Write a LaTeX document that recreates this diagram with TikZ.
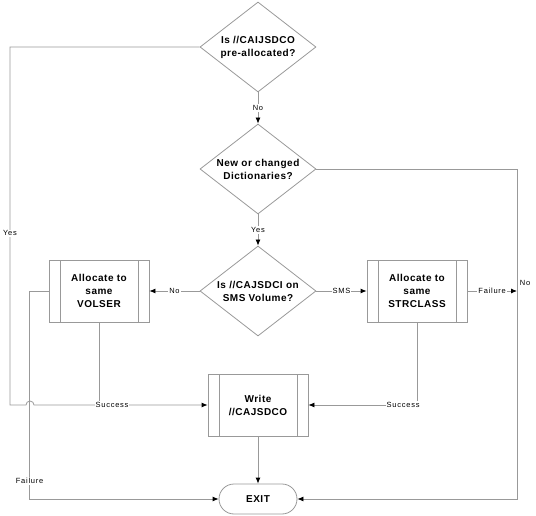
\documentclass[tikz,border=0pt]{standalone}
\usepackage{fontspec}
\setmainfont{Liberation Sans}
\newfontfamily\chartfont[LetterSpace=5]{Liberation Sans}
\newfontfamily\tagfont[LetterSpace=10]{Liberation Sans}
\usetikzlibrary{shapes.geometric,arrows.meta,positioning}

\begin{document}
\begin{tikzpicture}[
  x=1pt, y=-1pt,
  line width=0.8pt,
  decision/.style={
    draw=gray!80, diamond, aspect=1.29, minimum width=116pt,
    minimum height=90pt, inner sep=0pt, align=center,
    font=\chartfont\bfseries\fontsize{10}{13}\selectfont
  },
  procbox/.style={
    draw=gray!80, rectangle, minimum width=100pt, minimum height=62pt,
    inner sep=0pt, align=center,
    font=\chartfont\bfseries\fontsize{10}{13}\selectfont,
    path picture={
      \draw[gray!80] ([xshift=11pt]path picture bounding box.north west)
        -- ([xshift=11pt]path picture bounding box.south west);
      \draw[gray!80] ([xshift=-11pt]path picture bounding box.north east)
        -- ([xshift=-11pt]path picture bounding box.south east);
    }
  },
  terminal/.style={
    draw=gray!80, rounded corners=15pt, minimum width=78pt,
    minimum height=30pt, inner sep=0pt,
    font=\chartfont\bfseries\fontsize{10}{13}\selectfont
  },
  flow/.style={gray!80, -{Latex[length=6pt,width=5pt,color=black]}},
  link/.style={gray!80},
  tag/.style={fill=white, text=black, inner sep=1pt,
    font=\tagfont\fontsize{7.5}{9}\selectfont},
]
\useasboundingbox (0,0) rectangle (536,516);
% decisions down the middle
\node[decision] (prealloc) at (258,47)  {Is //CAIJSDCO\\pre-allocated?};
\node[decision] (dict)     at (258,169) {New or changed\\Dictionaries?};
\node[decision] (sms)      at (258,291) {Is //CAJSDCI on\\SMS Volume?};
% processes
\node[procbox] (volser)   at (99,291)  {Allocate to\\same\\VOLSER};
\node[procbox] (strclass) at (417,291) {Allocate to\\same\\STRCLASS};
\node[procbox] (write)    at (258,405) {Write\\//CAJSDCO};
\node[terminal] (exit)    at (258,499) {EXIT};
% rails
\coordinate (yesrail) at (10,405);
\coordinate (norail)  at (517,499);
% connectors
\draw[flow] (prealloc) -- node[tag]{No} (dict);
\draw[flow] (dict) -- node[tag]{Yes} (sms);
\draw[flow] (sms) -- node[tag]{No} (volser);
\draw[flow] (sms) -- node[tag]{SMS} (strclass);
\draw[flow] (strclass.east) -- node[tag]{Failure} (strclass.east -| norail);
\draw[flow] (dict.east) -| (norail) -- (exit.east);
\node[tag] (nolabel) at (525,283) {No};
\draw[flow] (volser.west) -- ++(-19,0) |- node[tag,pos=0.457]{Failure} (exit.west);
\draw[flow] (prealloc.west) -| node[tag,pos=0.76]{Yes} (yesrail)
  -- ++(16,0) arc[start angle=180,end angle=360,radius=4] -- (write.west);
\draw[link] (volser.south) -- (volser.south |- yesrail);
\node[tag] (volok) at ([xshift=13pt]volser.south |- yesrail) {Success};
\draw[flow] (strclass.south) |- node[tag,pos=0.564]{Success} (write.east);
\draw[flow] (write) -- (exit);
\end{tikzpicture}
\end{document}
